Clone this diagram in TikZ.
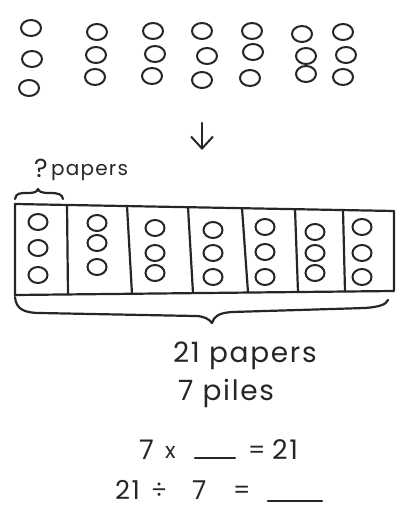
\documentclass[tikz,border=0pt]{standalone}
\usepackage{fontspec}
\setmainfont{Poppins}
\newfontfamily\widehand{Poppins}[LetterSpace=6]
\usetikzlibrary{shapes.geometric,arrows.meta}
\begin{document}
\begin{tikzpicture}[x={(1pt,0)},y={(0,-1pt)},
  ink/.style={draw=black!85,line width=2.2pt,line cap=round,line join=round},
  ring/.style={ellipse,draw=black!85,line width=2pt,inner sep=0pt,minimum width=20pt,minimum height=16pt},
  bring/.style={ring,minimum width=19pt,minimum height=16pt},
  lbl/.style={inner sep=0pt,text=black!85}]
\useasboundingbox (0,0) rectangle (399,508);
% top loose circles
\foreach \n/\x/\y in {a1/31/28,a2/32/59,a3/29/88,
  b1/97/32,b2/96/55,b3/95/77,
  c1/153/31,c2/155/54,c3/152/76,
  d1/202/31,d2/207/56,d3/202/80,
  e1/252/31,e2/253/52,e3/250/78,
  f1/302/34,f2/306/56,f3/306/74,
  g1/343/32,g2/346/55,g3/343/77}
  \node[ring] (\n) at (\x,\y) {};
% arrow
\coordinate (arS) at (202,123);
\coordinate (arE) at (202,150);
\draw[ink,-{Straight Barb[length=12pt,width=22pt,line width=2pt]}] (arS) -- (arE);
% question brace
\node[lbl,anchor=base,font=\fontsize{26}{28}\selectfont] (q) at (41,177) {?};
\node[lbl,anchor=base west,font=\widehand\fontsize{20}{22}\selectfont] (pap) at (51,175) {papers};
\coordinate (qb1) at (15,199);
\coordinate (qb2) at (63,199);
\coordinate (qbt) at (38,189);
\draw[ink] (qb1) .. controls (16,193) and (20,193) .. (28,193) .. controls (34,193) and (37,192) .. (qbt)
  .. controls (39,192) and (42,193) .. (50,193) .. controls (58,193) and (62,194) .. (qb2);
% box
\coordinate (tl) at (15,204);
\coordinate (tr) at (394,211);
\coordinate (br) at (394,291);
\coordinate (bl) at (15,295);
\draw[ink] (tl) -- (tr) -- (br) -- (bl) -- cycle;
\foreach \i/\xt/\yt/\xb/\yb in {1/67/205/68/294.4,2/127/206/132/294,3/188/207/193/293,4/242/208/248/292.5,5/295/209/298/292,6/343/210/345/291.5}{
  \coordinate (dt\i) at (\xt,\yt);
  \coordinate (db\i) at (\xb,\yb);
  \draw[ink] (dt\i) -- (db\i);
}
% circles in the box
\foreach \n/\x/\y in {p1/38/222,p2/38/248,p3/38/275,
  q1/97/223,q2/97/243,q3/97/267,
  r1/155/228,r2/155/253,r3/155/273,
  s1/213/230,s2/213/253,s3/213/277,
  t1/265/227,t2/265/252,t3/265/277,
  u1/315/232,u2/315/253,u3/315/273,
  v1/362/227,v2/362/253,v3/362/277}
  \node[bring] (\n) at (\x,\y) {};
% big brace
\coordinate (bb1) at (15,297);
\coordinate (bbt) at (212,323);
\coordinate (bb2) at (388,300);
\draw[ink] (bb1) .. controls (16,309) and (24,313) .. (40,313) -- (195,316)
  .. controls (204,316) and (209,319) .. (bbt)
  .. controls (214,316) and (219,313) .. (232,312) -- (365,308)
  .. controls (378,307) and (386,305) .. (bb2);
% texts
\node[lbl,anchor=base west,font=\widehand\fontsize{28}{30}\selectfont] (t21) at (173,362) {21 papers};
\node[lbl,anchor=base west,font=\widehand\fontsize{28}{30}\selectfont] (t7) at (178,400) {7 piles};
% equation 1
\node[lbl,anchor=base west,font=\fontsize{27}{29}\selectfont] (e7) at (139,459) {7};
\node[lbl,anchor=base west,font=\fontsize{22}{24}\selectfont] (ex) at (165,458) {x};
\coordinate (l1a) at (195,458);
\coordinate (l1b) at (235,458);
\draw[ink] (l1a) -- (l1b);
\node[lbl,anchor=base west,font=\fontsize{24}{26}\selectfont] (eq1) at (248,458) {=};
\node[lbl,anchor=base west,font=\widehand\fontsize{27}{29}\selectfont] (e21) at (272,459) {21};
% equation 2
\node[lbl,anchor=base west,font=\widehand\fontsize{26}{28}\selectfont] (f21) at (115,499) {21};
\node[lbl,anchor=base west,font=\fontsize{24}{26}\selectfont] (fdiv) at (151,498) {÷};
\node[lbl,anchor=base west,font=\fontsize{26}{28}\selectfont] (f7) at (192,499) {7};
\node[lbl,anchor=base west,font=\fontsize{24}{26}\selectfont] (eq2) at (233,498) {=};
\coordinate (l2a) at (268,501);
\coordinate (l2b) at (322,501);
\draw[ink] (l2a) -- (l2b);
\end{tikzpicture}
\end{document}
